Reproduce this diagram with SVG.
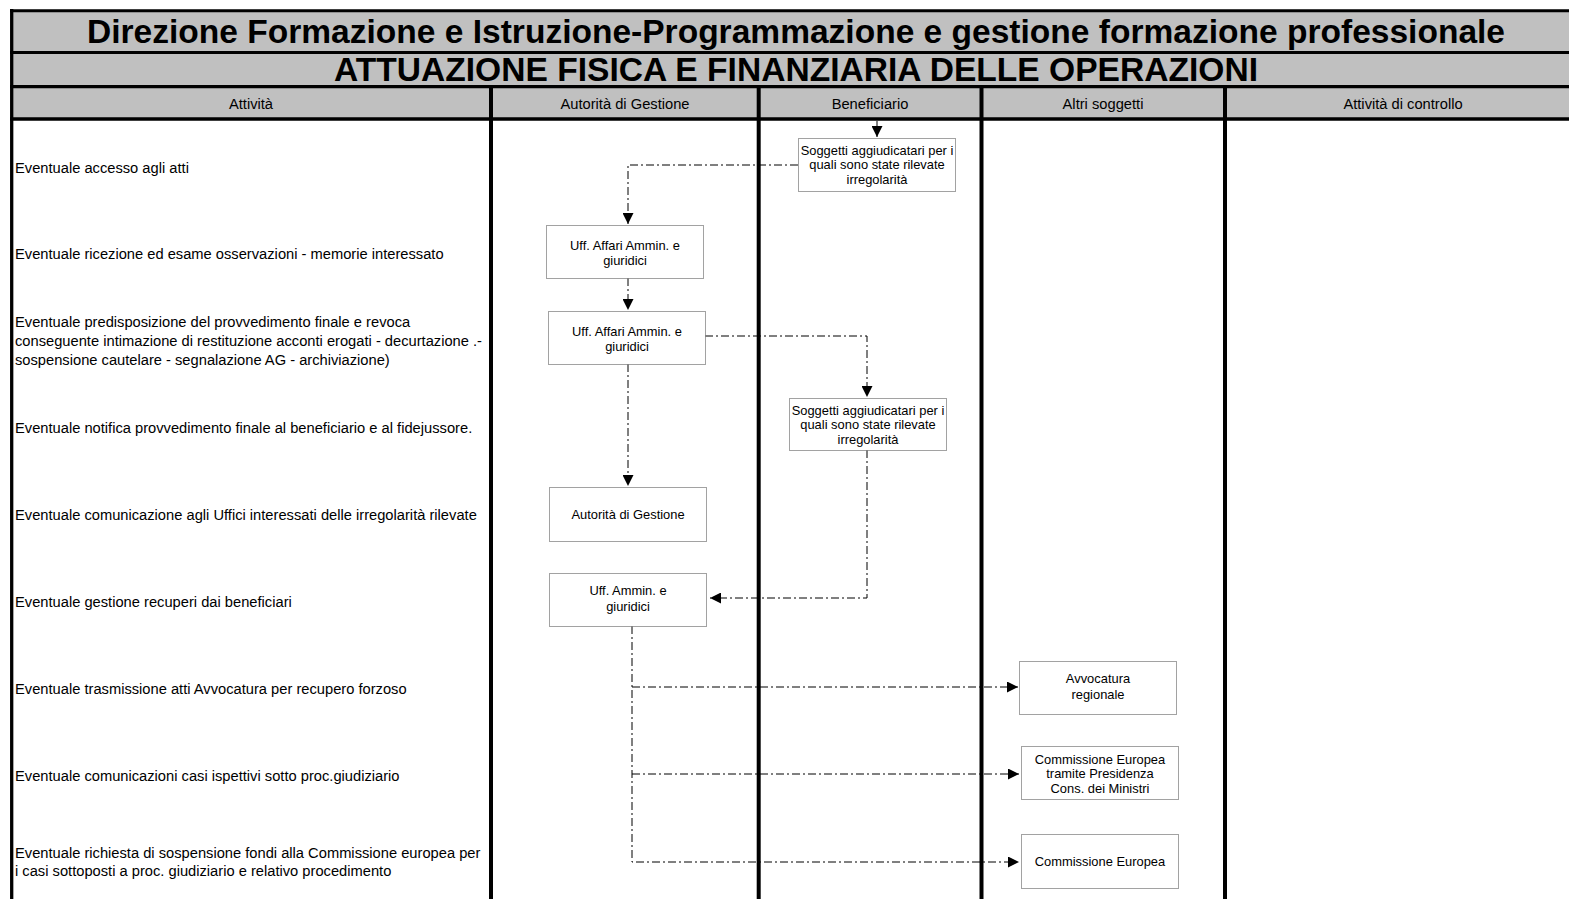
<svg xmlns="http://www.w3.org/2000/svg" width="1569" height="899" viewBox="0 0 1569 899">
<style>
.t1{font-family:"Liberation Sans",Arial,sans-serif;font-weight:bold;font-size:33.5px;fill:#000}
.hd{font-family:"Liberation Sans",Arial,sans-serif;font-size:14.7px;fill:#000;text-anchor:middle}
.lt{font-family:"Liberation Sans",Arial,sans-serif;font-size:14.7px;fill:#000}
.bx{fill:#fff;stroke:#444;stroke-width:1;stroke-dasharray:1 1}
.bt{font-family:"Liberation Sans",Arial,sans-serif;font-size:12.9px;fill:#000;text-anchor:middle}
.thick{stroke:#000;fill:none}
.cn{fill:none;stroke:#000;stroke-width:1;stroke-dasharray:8 3 2 3}
</style>
<defs>
<marker id="ah" viewBox="0 0 10 10" refX="10" refY="5" markerWidth="11" markerHeight="11" markerUnits="userSpaceOnUse" orient="auto">
<path d="M0,0 L10,5 L0,10 Z" fill="#000"/>
</marker>
</defs>
<rect x="0" y="0" width="1569" height="899" fill="#fff"/>
<g id="header">
<rect x="11" y="10" width="1558" height="109" fill="#c0c0c0"/>
<line class="thick" x1="10" y1="10.7" x2="1569" y2="10.7" stroke-width="3"/>
<line class="thick" x1="10" y1="52.5" x2="1569" y2="52.5" stroke-width="3"/>
<line class="thick" x1="10" y1="86.7" x2="1569" y2="86.7" stroke-width="3.3"/>
<line class="thick" x1="10" y1="119" x2="1569" y2="119" stroke-width="3.6"/>
<text class="t1" x="87" y="43" textLength="1418" lengthAdjust="spacingAndGlyphs">Direzione Formazione e Istruzione-Programmazione e gestione formazione professionale</text>
<text class="t1" x="334" y="81" textLength="924" lengthAdjust="spacingAndGlyphs">ATTUAZIONE FISICA E FINANZIARIA DELLE OPERAZIONI</text>
<text class="hd" x="251" y="109">Attività</text>
<text class="hd" x="625" y="109">Autorità di Gestione</text>
<text class="hd" x="870" y="109">Beneficiario</text>
<text class="hd" x="1103" y="109">Altri soggetti</text>
<text class="hd" x="1403" y="109">Attività di controllo</text>
</g>
<g id="lanes">
<line class="thick" x1="11.7" y1="9" x2="11.7" y2="899" stroke-width="3.3"/>
<line class="thick" x1="491" y1="86" x2="491" y2="899" stroke-width="4"/>
<line class="thick" x1="758.7" y1="86" x2="758.7" y2="899" stroke-width="4"/>
<line class="thick" x1="981.5" y1="86" x2="981.5" y2="899" stroke-width="4"/>
<line class="thick" x1="1225" y1="86" x2="1225" y2="899" stroke-width="4"/>
</g>
<g id="activities">
<text class="lt" x="15" y="173">Eventuale accesso agli atti</text>
<text class="lt" x="15" y="259">Eventuale ricezione ed esame osservazioni - memorie interessato</text>
<text class="lt" x="15" y="327">Eventuale predisposizione del provvedimento finale e revoca</text>
<text class="lt" x="15" y="346">conseguente intimazione di restituzione acconti erogati - decurtazione .-</text>
<text class="lt" x="15" y="365">sospensione cautelare - segnalazione AG - archiviazione)</text>
<text class="lt" x="15" y="433">Eventuale notifica provvedimento finale al beneficiario e al fidejussore.</text>
<text class="lt" x="15" y="520">Eventuale comunicazione agli Uffici interessati delle irregolarità rilevate</text>
<text class="lt" x="15" y="607">Eventuale gestione recuperi dai beneficiari</text>
<text class="lt" x="15" y="694">Eventuale trasmissione atti Avvocatura per recupero forzoso</text>
<text class="lt" x="15" y="781">Eventuale comunicazioni casi ispettivi sotto proc.giudiziario</text>
<text class="lt" x="15" y="858">Eventuale richiesta di sospensione fondi alla Commissione europea per</text>
<text class="lt" x="15" y="876">i casi sottoposti a proc. giudiziario e relativo procedimento</text>
</g>
<g id="connectors">
<line x1="877" y1="121" x2="877" y2="137" stroke="#000" stroke-width="1" marker-end="url(#ah)"/>
<polyline class="cn" points="798,165 628,165 628,224" marker-end="url(#ah)"/>
<polyline class="cn" points="628,278 628,310" marker-end="url(#ah)"/>
<polyline class="cn" points="705,336 867,336 867,397" marker-end="url(#ah)"/>
<polyline class="cn" points="628,364 628,486" marker-end="url(#ah)"/>
<polyline class="cn" points="867,450 867,598 710,598" marker-end="url(#ah)"/>
<polyline class="cn" points="632,626 632,862 1019,862" marker-end="url(#ah)"/>
<polyline class="cn" points="632,687 1018,687" marker-end="url(#ah)"/>
<polyline class="cn" points="632,774 1019,774" marker-end="url(#ah)"/>
</g>
<g id="n1">
<rect class="bx" x="798.5" y="138.5" width="157" height="53"/>
<text class="bt" x="877" y="154.5">Soggetti aggiudicatari per i</text>
<text class="bt" x="877" y="169">quali sono state rilevate</text>
<text class="bt" x="877" y="183.5">irregolarità</text>
</g>
<g id="n2">
<rect class="bx" x="546.5" y="225.5" width="157" height="53"/>
<text class="bt" x="625" y="249.5">Uff. Affari Ammin. e</text>
<text class="bt" x="625" y="264.5">giuridici</text>
</g>
<g id="n3">
<rect class="bx" x="548.5" y="311.5" width="157" height="53"/>
<text class="bt" x="627" y="335.5">Uff. Affari Ammin. e</text>
<text class="bt" x="627" y="350.5">giuridici</text>
</g>
<g id="n4">
<rect class="bx" x="789.5" y="398.5" width="157" height="52"/>
<text class="bt" x="868" y="414.5">Soggetti aggiudicatari per i</text>
<text class="bt" x="868" y="429">quali sono state rilevate</text>
<text class="bt" x="868" y="443.5">irregolarità</text>
</g>
<g id="n5">
<rect class="bx" x="549.5" y="487.5" width="157" height="54"/>
<text class="bt" x="628" y="519">Autorità di Gestione</text>
</g>
<g id="n6">
<rect class="bx" x="549.5" y="573.5" width="157" height="53"/>
<text class="bt" x="628" y="594.5">Uff. Ammin. e</text>
<text class="bt" x="628" y="610.5">giuridici</text>
</g>
<g id="n7">
<rect class="bx" x="1019.5" y="661.5" width="157" height="53"/>
<text class="bt" x="1098" y="682.5">Avvocatura</text>
<text class="bt" x="1098" y="698.5">regionale</text>
</g>
<g id="n8">
<rect class="bx" x="1021.5" y="746.5" width="157" height="53"/>
<text class="bt" x="1100" y="763.5">Commissione Europea</text>
<text class="bt" x="1100" y="778">tramite Presidenza</text>
<text class="bt" x="1100" y="792.5">Cons. dei Ministri</text>
</g>
<g id="n9">
<rect class="bx" x="1021.5" y="834.5" width="157" height="54"/>
<text class="bt" x="1100" y="866">Commissione Europea</text>
</g>
</svg>
